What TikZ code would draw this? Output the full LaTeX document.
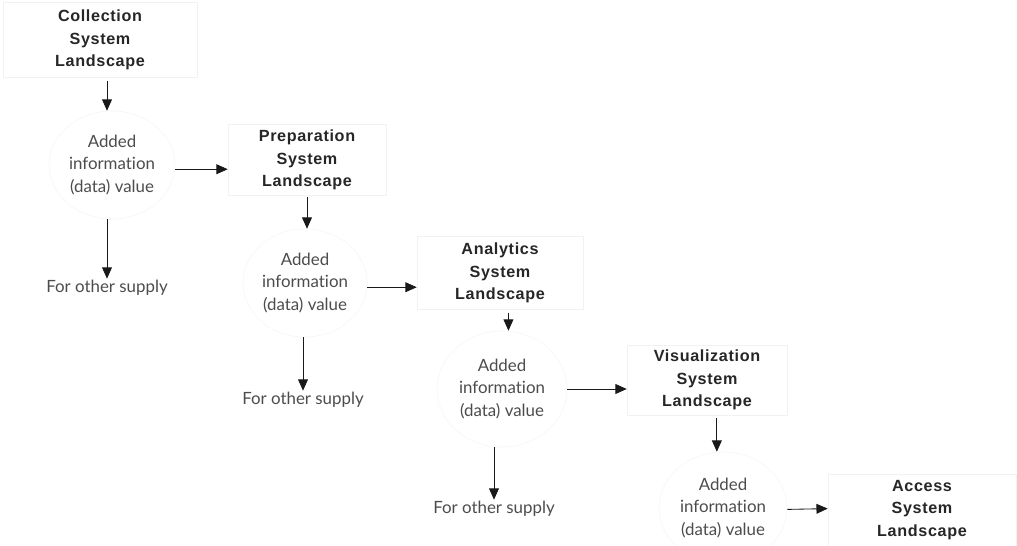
\documentclass[tikz,border=0pt]{standalone}
\usepackage{fontspec}
\usetikzlibrary{shapes.geometric,arrows.meta}
\newfontfamily\boxfont[LetterSpace=4]{Liberation Sans}
\newfontfamily\valfont[Ligatures=CommonOff]{Lato}

\begin{document}
\begin{tikzpicture}[x=0.025cm,y=-0.025cm,
	sysbox/.style={draw=black!5,minimum width=#1,align=center,inner sep=0pt,
		font=\boxfont\bfseries\fontsize{11.5}{16}\selectfont,text=black!85},
	valnode/.style={ellipse,draw=black!4,minimum width=3.15cm,minimum height=2.7cm,inner sep=0pt,
		align=center,font=\valfont\fontsize{12}{16}\selectfont,text=black!70},
	othernode/.style={font=\valfont\fontsize{12}{16}\selectfont,text=black!70,inner sep=1pt},
	arr/.style={-{Triangle[length=8pt,width=7pt]},line width=0.6pt,black!90}]
	\useasboundingbox (0,0) rectangle (1017,545);
	
	\node[sysbox=4.85cm,minimum height=1.88cm] (b1) at (100,40) {Collection\\System\\Landscape};
	\node[valnode] (c1) at (112,165) {Added\\information\\(data) value};
	\node[othernode] (o1) at (107,288) {For other supply};
	
	\node[sysbox=3.95cm,minimum height=1.78cm] (b2) at (307,160) {Preparation\\System\\Landscape};
	\node[valnode,minimum width=3.1cm] (c2) at (305,283) {Added\\information\\(data) value};
	\node[othernode] (o2) at (303,400) {For other supply};
	
	\node[sysbox=4.15cm,minimum height=1.83cm] (b3) at (500,273) {Analytics\\System\\Landscape};
	\node[valnode,minimum width=3.25cm,minimum height=2.9cm] (c3) at (502,389) {Added\\information\\(data) value};
	\node[othernode] (o3) at (494,509) {For other supply};
	
	\node[sysbox=4.0cm,minimum height=1.75cm] (b4) at (707,380) {Visualization\\System\\Landscape};
	\node[valnode,minimum width=3.2cm,minimum height=2.8cm] (c4) at (723,508) {Added\\information\\(data) value};
	
	\node[sysbox=4.7cm,minimum height=1.8cm] (b5) at (922,510) {Access\\System\\Landscape};
	
	% down from each landscape
	\draw[arr] ([yshift=-2pt]b1.south -| o1) -- (c1.north -| o1);
	\draw[arr] ([yshift=-1pt]b2.south) -- (b2.south |- c2.north);
	\draw[arr] ([xshift=6pt,yshift=-2pt]b3.south) -- ([xshift=6pt]b3.south |- c3.north);
	\draw[arr] ([xshift=7pt,yshift=-2pt]b4.south) -- ([xshift=7pt]b4.south |- c4.north);
	
	% across to the next landscape
	\draw[arr] ([yshift=-3pt]c1.east) -- ([yshift=-3pt]c1.east -| b2.west);
	\draw[arr] ([yshift=-3pt]c2.east) -- ([yshift=-3pt]c2.east -| b3.west);
	\draw[arr] (c3.east) -- (c3.east -| b4.west);
	\draw[arr] ([yshift=-1pt]c4.east) -- ([yshift=1pt]b5.west);
	
	% for other supply
	\draw[arr] (c1.south -| o1) -- (o1.north);
	\draw[arr] (c2.south -| o2) -- (o2.north);
	\draw[arr] (c3.south -| o3) -- (o3.north);
\end{tikzpicture}
\end{document}
